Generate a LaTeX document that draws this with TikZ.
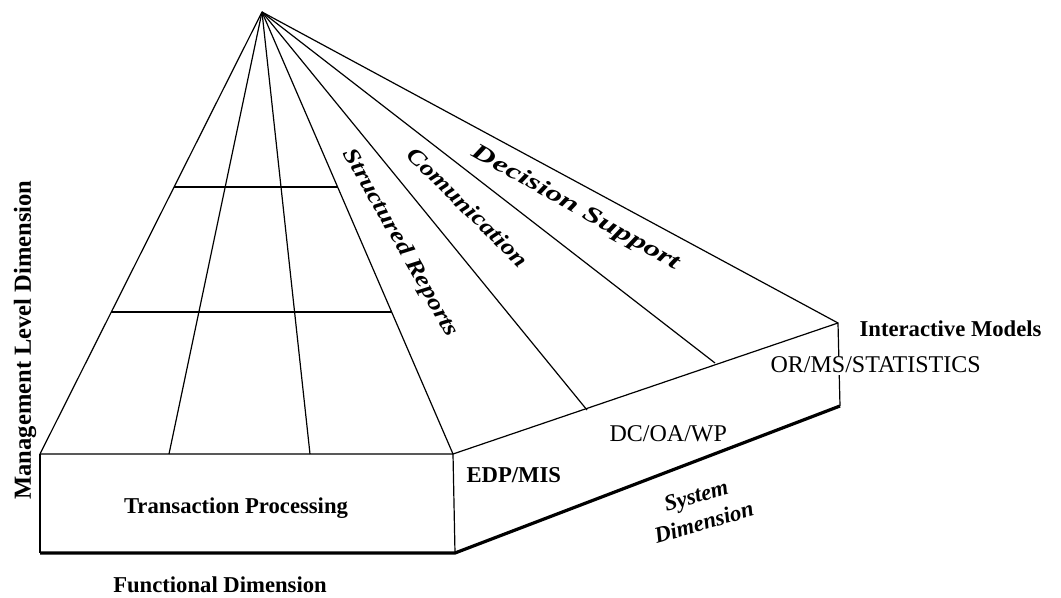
\documentclass[tikz,border=0pt]{standalone}
\usepackage{fontspec}
\setmainfont{Liberation Serif}
\usetikzlibrary{calc}
\begin{document}
\begin{tikzpicture}[x=0.75pt,y=-0.75pt,
  edge/.style={line width=0.9pt, line join=round},
  heavyedge/.style={line width=2.4pt, line join=round},
  lbl/.style={font=\fontsize{17}{20}\selectfont\bfseries, inner sep=1pt},
  lblr/.style={font=\fontsize{18}{20}\selectfont, inner sep=1pt},
  slant/.style={font=\fontsize{17}{20}\selectfont\bfseries\itshape, inner sep=1pt}]
\useasboundingbox (0,0) rectangle (1061,598);
% key points
\coordinate (A) at (262,12);
\coordinate (FTL) at (40,454);
\coordinate (FTR) at (453,454);
\coordinate (FBL) at (40,553);
\coordinate (FBR) at (455,553);
\coordinate (STR) at (838,323);
\coordinate (SBR) at (840,406);
\coordinate (G1) at (169,454);
\coordinate (G2) at (310,454);
\coordinate (S1) at (587,410);
\coordinate (S2) at (715,363);
\coordinate (L1) at ($(A)!0.3959!(FTL)$);
\coordinate (R1) at ($(A)!0.3959!(FTR)$);
\coordinate (L2) at ($(A)!0.6787!(FTL)$);
\coordinate (R2) at ($(A)!0.6787!(FTR)$);
% pyramid lines
\draw[edge] (A) -- (FTL);
\draw[edge] (A) -- (G1);
\draw[edge] (A) -- (G2);
\draw[edge] (A) -- (FTR);
\draw[edge] (A) -- (S1);
\draw[edge] (A) -- (S2);
\draw[edge] (A) -- (STR);
\draw[edge] (L1) -- (R1);
\draw[edge] (L2) -- (R2);
% front box
\draw[edge] (FTL) -- (FTR) -- (FBR);
\draw[edge] (FTL) -- (FBL);
% side face
\draw[edge] (FTR) -- (STR) -- (SBR);
\draw[heavyedge] (FBL) -- (FBR) -- (SBR);
% labels
\node[lbl, anchor=base] (tp) at (236,513) {Transaction Processing};
\node[lbl, anchor=base] (fd) at (220,593) {Functional Dimension};
\node[lbl, anchor=base, rotate=90, font=\fontsize{18.4}{20}\selectfont\bfseries] (md) at (31,340) {Management Level Dimension};
\node[lbl, anchor=base west] (edp) at (465,483) {EDP/MIS};
\node[lblr, anchor=base west] (dc) at (608,442) {DC/OA/WP};
\node[lblr, anchor=base west, fill=white] (or) at (769,373) {OR/MS/STATISTICS};
\node[lbl, anchor=base west] (im) at (858,337) {Interactive Models};
\node[slant, rotate=-60.4] (sr) at (400,243) {\scalebox{1.2}[1]{Structured Reports}};
\node[slant, rotate=-44.5] (cm) at (468,207) {\scalebox{1.2}[1]{Comunication}};
\node[slant, rotate=-29] (ds) at (576,208) {\scalebox{1.45}[1]{Decision Support}};
\node[slant, rotate=16, align=center, font=\fontsize{17}{21}\selectfont\bfseries\itshape] (sd) at (700,509) {System\\Dimension};
\end{tikzpicture}
\end{document}
